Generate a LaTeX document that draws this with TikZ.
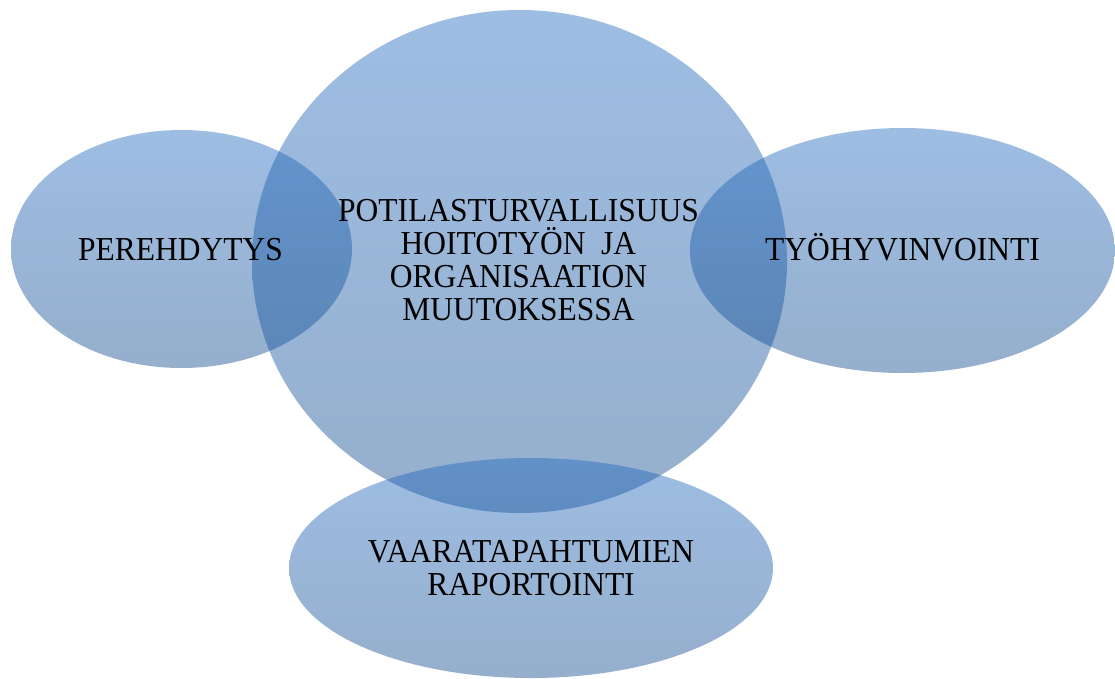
\documentclass[tikz,border=0pt]{standalone}
\usepackage{fontspec}
\setmainfont{Liberation Serif}[FakeStretch=0.94]
\usetikzlibrary{shapes.geometric}

\definecolor{bubbletop}{RGB}{32,105,191}
\definecolor{bubblebot}{RGB}{14,72,140}

\tikzset{
  bubble/.style={ellipse, inner sep=0pt, top color=bubbletop, bottom color=bubblebot,
    fill opacity=0.44, draw=none},
  label/.style={inner sep=0pt, align=center, font=\fontsize{33.5}{33}\selectfont}
}

\begin{document}
\begin{tikzpicture}[x=1pt,y=-1pt]
\useasboundingbox (0,0) rectangle (1115,678);
% the four areas
\node[bubble, minimum width=341, minimum height=238] (pereh) at (181.5,249) {};
\node[bubble, minimum width=535, minimum height=503] (potil) at (519.5,261.5) {};
\node[bubble, minimum width=425, minimum height=245] (tyoh) at (902.5,250.5) {};
\node[bubble, minimum width=484, minimum height=220] (vaara) at (531,568) {};
% texts on top
\node[label, anchor=base] (perehtxt) at (180.5,260) {PEREHDYTYS};
\node[label] (potiltxt) at (518.5,260) {POTILASTURVALLISUUS\\HOITOTYÖN\ \ JA\\ORGANISAATION\\MUUTOKSESSA};
\node[label, anchor=base] (tyohtxt) at (902.5,260.5) {TYÖHYVINVOINTI};
\node[label] (vaaratxt) at (531,568.5) {VAARATAPAHTUMIEN\\RAPORTOINTI};
\end{tikzpicture}
\end{document}
